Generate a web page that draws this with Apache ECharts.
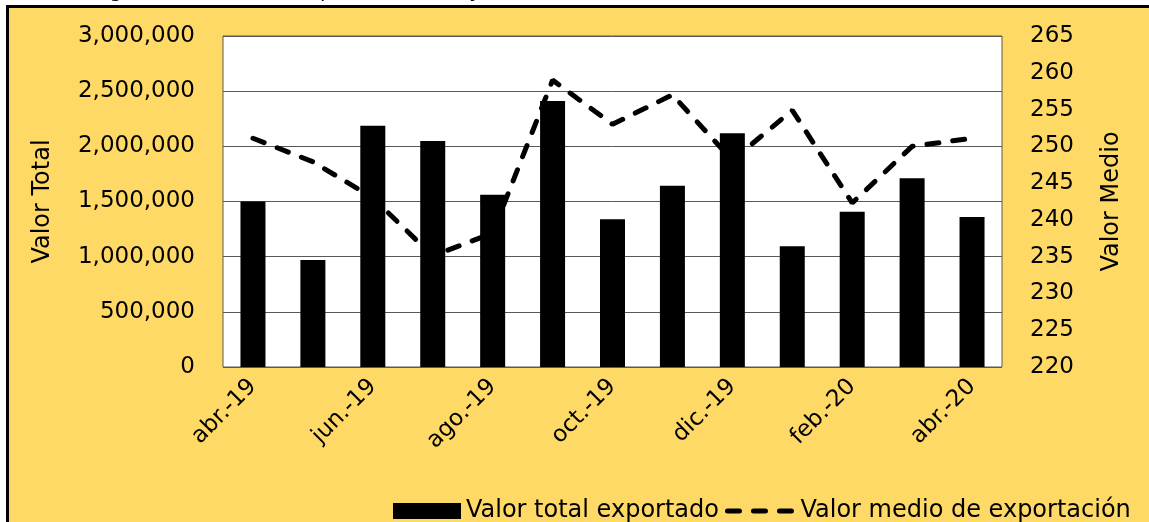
<!DOCTYPE html>
<html>
<head>
<meta charset="utf-8">
<script src="https://cdn.jsdelivr.net/npm/echarts@6/dist/echarts.min.js"></script>
<style>
  html, body { margin: 0; padding: 0; background: #ffffff; overflow: hidden; }
  #box { position: absolute; left: 6px; top: 5px; width: 1300px; height: 700px;
         background: #FFD966; border-left: 3px solid #000; border-top: 3px solid #000; box-sizing: border-box; }
  #chart { position: absolute; left: 0; top: 0; width: 1149px; height: 522px; }
</style>
</head>
<body>
<div id="box"></div>
<div id="chart"></div>
<script>
const categories = ['abr.-19','may.-19','jun.-19','jul.-19','ago.-19','sep.-19','oct.-19','nov.-19','dic.-19','ene.-20','feb.-20','mar.-20','abr.-20'];
const totalValues = [1500000, 970000, 2187000, 2048000, 1562000, 2411000, 1338000, 1643000, 2118000, 1094000, 1408000, 1710000, 1360000];
const meanValues = [251.1, 247.9, 243.0, 235.1, 238.2, 259.0, 253.0, 257.0, 248.1, 254.9, 242.3, 250.0, 251.1];
const seriesNames = ['Valor total exportado', 'Valor medio de exportación'];
const axisNames = ['Valor Total', 'Valor Medio'];
const titleText = 'Figura 2. Valor total exportado (USD) y medio (USD/ton)';

const FONT = 'DejaVu Sans';
const chart = echarts.init(document.getElementById('chart'), null, { renderer: 'canvas' });
chart.setOption({
  backgroundColor: 'transparent',
  animation: false,
  textStyle: { fontFamily: FONT },
  graphic: [{
    type: 'text', left: 94, top: -18,
    style: { text: titleText, font: '20px "DejaVu Sans"', fill: '#000' }
  }],
  grid: {
    left: 223, right: 147, top: 36, bottom: 155,
    show: true, backgroundColor: '#ffffff', borderColor: '#595959', borderWidth: 1
  },
  legend: {
    left: 388, top: 494,
    itemWidth: 68, itemHeight: 16, itemGap: 6,
    textStyle: { fontFamily: FONT, fontSize: 24, color: '#000' },
    data: [
      { name: seriesNames[0], icon: 'rect' },
      { name: seriesNames[1], itemStyle: { opacity: 0 },
        lineStyle: { width: 5, type: [12, 14], cap: 'round', color: '#000' } }
    ]
  },
  xAxis: {
    type: 'category', data: categories,
    axisLine: { show: false }, axisTick: { show: false },
    axisLabel: { interval: 1, rotate: 45, margin: 16, fontFamily: FONT, fontSize: 23, color: '#000' }
  },
  yAxis: [{
    type: 'value', min: 0, max: 3000000, interval: 500000,
    name: axisNames[0], nameLocation: 'middle', nameGap: 168, nameRotate: 90,
    nameTextStyle: { fontFamily: FONT, fontSize: 24, color: '#000' },
    axisLine: { show: false }, axisTick: { show: false },
    axisLabel: { margin: 28, fontFamily: FONT, fontSize: 23, color: '#000',
      formatter: v => v.toLocaleString('en-US') },
    splitLine: { show: true, lineStyle: { color: '#595959', width: 1 } }
  }, {
    type: 'value', min: 220, max: 265, interval: 5,
    name: axisNames[1], nameLocation: 'middle', nameGap: 98, nameRotate: 90,
    nameTextStyle: { fontFamily: FONT, fontSize: 24, color: '#000' },
    axisLine: { show: false }, axisTick: { show: false },
    axisLabel: { margin: 28, fontFamily: FONT, fontSize: 23, color: '#000' },
    splitLine: { show: false }
  }],
  series: [{
    name: seriesNames[0], type: 'bar', data: totalValues, yAxisIndex: 0,
    barWidth: 25, itemStyle: { color: '#000' }
  }, {
    name: seriesNames[1], type: 'line', data: meanValues, yAxisIndex: 1,
    symbol: 'none', z: 5,
    lineStyle: { color: '#000', width: 5, type: [12, 14], cap: 'round' },
    itemStyle: { color: '#000' }
  }]
});
</script>
</body>
</html>
